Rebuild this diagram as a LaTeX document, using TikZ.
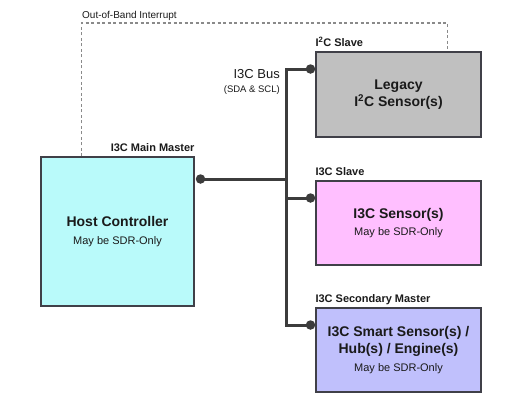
\documentclass[tikz,border=0pt]{standalone}
\usepackage{fontspec}
\setmainfont{Liberation Sans}
\usetikzlibrary{calc}
\definecolor{edge}{HTML}{404048}
\definecolor{txt}{HTML}{1A1A1A}
\definecolor{hostfill}{HTML}{B9FAFA}
\definecolor{pinkfill}{HTML}{FFBFFF}
\definecolor{lavfill}{HTML}{C0C0FC}
\definecolor{grayfill}{HTML}{C0C0C0}
\definecolor{dashcol}{HTML}{8A8A8A}
\definecolor{buscol}{HTML}{3C3C3C}
\tikzset{
  box/.style={draw=edge, line width=1.4pt, rectangle, inner sep=0pt, align=center,
    text=txt, font=\bfseries\fontsize{14}{17.5}\selectfont},
  lbl/.style={text=txt, font=\bfseries\fontsize{11}{12}\selectfont, inner sep=0pt},
  busline/.style={draw=buscol, line width=3pt, line join=miter},
  busdot/.style={circle, fill=buscol, draw=none, minimum size=9.5pt, inner sep=0pt},
  oob/.style={draw=dashcol, line width=1.3pt, dash pattern=on 3pt off 2.5pt},
}
\newcommand{\sdr}{{\mdseries\fontsize{11}{17.5}\selectfont May be SDR-Only}}
\begin{document}
\begin{tikzpicture}[x=1pt, y=-1pt]
\useasboundingbox (0,0) rectangle (506,400);
% boxes
\node[box, fill=hostfill, minimum width=153pt, minimum height=149pt] (host) at (117.5,231.5)
  {Host Controller\\\sdr};
\node[box, fill=grayfill, minimum width=165pt, minimum height=85pt] (legacy) at (398.5,94.5)
  {Legacy\\I\textsuperscript{2}C Sensor(s)};
\node[box, fill=pinkfill, minimum width=165pt, minimum height=84pt] (slave) at (398.5,223)
  {I3C Sensor(s)\\\sdr};
\node[box, fill=lavfill, minimum width=165pt, minimum height=84pt] (smart) at (398.5,350)
  {I3C Smart Sensor(s) /\\Hub(s) / Engine(s)\\\sdr};
% labels
\node[lbl, anchor=base east] (hostlbl) at ($(host.north east)+(0,-5)$) {I3C Main Master};
\node[lbl, anchor=base west] (leglbl) at ($(legacy.north west)+(0,-5)$) {I\textsuperscript{2}C Slave};
\node[lbl, anchor=base west] (slavelbl) at ($(slave.north west)+(0,-5)$) {I3C Slave};
\node[lbl, anchor=base west] (smartlbl) at ($(smart.north west)+(0,-5)$) {I3C Secondary Master};
\node[text=txt, font=\fontsize{10}{12}\selectfont, inner sep=0pt, anchor=base west] (ooblbl) at (82,18) {Out-of-Band Interrupt};
\node[text=txt, font=\fontsize{13}{15}\selectfont, inner sep=0pt, anchor=base east] (buslbl) at (280,78) {I3C Bus};
\node[text=txt, font=\fontsize{9.5}{11}\selectfont, inner sep=0pt, anchor=base east] (bussub) at (280,92) {(SDA \& SCL)};
% out-of-band interrupt
\coordinate (oobA) at ($(host.north west)+(41,0)$);
\coordinate (oobB) at ($(legacy.north west)+(132,0)$);
\coordinate (oobTop) at (0,23);
\draw[oob] (oobA) |- (oobTop -| oobB) -- (oobB);
% bus
\node[busdot] (hdot) at (200.5,179) {};
\node[busdot] (ldot) at (310.5,69) {};
\node[busdot] (sdot) at (310.5,198) {};
\node[busdot] (mdot) at (310.5,325) {};
\coordinate (busx) at (286,0);
\draw[busline] (ldot.center) -| (mdot -| busx) -- (mdot.center);
\draw[busline] (hdot.center) -- (hdot -| busx);
\draw[busline] (sdot -| busx) -- (sdot.center);
\end{tikzpicture}
\end{document}
